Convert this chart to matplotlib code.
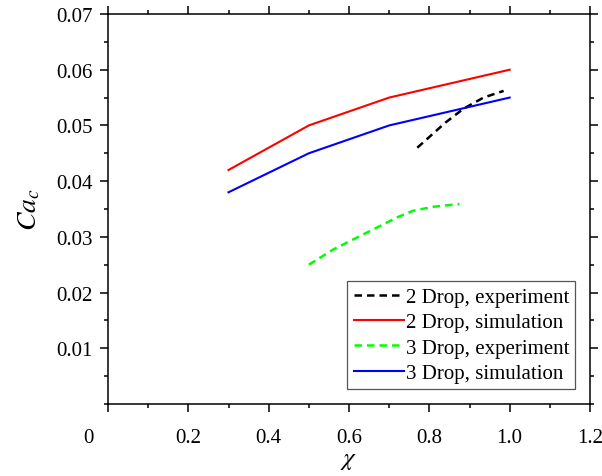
import matplotlib
matplotlib.use("Agg")
import matplotlib.pyplot as plt
import matplotlib.transforms as mtransforms
from matplotlib.ticker import MultipleLocator

# data
chi_sim = [0.3, 0.5, 0.7, 1.0]
ca_2drop_sim = [0.042, 0.050, 0.055, 0.060]
ca_3drop_sim = [0.038, 0.045, 0.050, 0.055]

chi_2drop_exp = [0.77, 0.84, 0.885, 0.935, 0.985]
ca_2drop_exp = [0.046, 0.0505, 0.053, 0.055, 0.0562]

chi_3drop_exp = [0.50, 0.56, 0.64, 0.72, 0.76, 0.81, 0.875]
ca_3drop_exp = [0.025, 0.0277, 0.0306, 0.0335, 0.0347, 0.0354, 0.0359]

xticks = [0, 0.2, 0.4, 0.6, 0.8, 1.0, 1.2]
xticklabels = ["0", "0.2", "0.4", "0.6", "0.8", "1.0", "1.2"]
yticks = [0.01, 0.02, 0.03, 0.04, 0.05, 0.06, 0.07]
yticklabels = ["0.01", "0.02", "0.03", "0.04", "0.05", "0.06", "0.07"]

plt.rcParams['font.family'] = ['Liberation Serif', 'DejaVu Serif']
plt.rcParams['mathtext.fontset'] = 'stix'

fig = plt.figure(figsize=(6.02, 4.77), dpi=100)
ax = fig.add_axes([108/602, 1 - 405/477, (590-108)/602, (405-15)/477])

ax.plot(chi_2drop_exp, ca_2drop_exp, color='black', lw=1.8, linestyle=(0, (3, 2)),
        label='2 Drop, experiment')
ax.plot(chi_sim, ca_2drop_sim, color='#ff0000', lw=1.5, label='2 Drop, simulation')
ax.plot(chi_3drop_exp, ca_3drop_exp, color='#00ff00', lw=1.8, linestyle=(0, (3, 2)),
        label='3 Drop, experiment')
ax.plot(chi_sim, ca_3drop_sim, color='#0000ff', lw=1.5, label='3 Drop, simulation')

ax.set_xlim(0, 1.2)
ax.set_ylim(0, 0.07)
ax.set_xticks(xticks)
ax.set_xticklabels(xticklabels)
ax.set_yticks(yticks)
ax.set_yticklabels(yticklabels)
ax.xaxis.set_minor_locator(MultipleLocator(0.1))
ax.yaxis.set_minor_locator(MultipleLocator(0.005))

ax.tick_params(which='both', direction='out', top=True, right=True, width=1.1, labelsize=15)
ax.tick_params(which='major', length=6)
ax.tick_params(which='minor', length=3)
ax.tick_params(axis='x', pad=11)
ax.tick_params(axis='y', pad=5)
for s in ax.spines.values():
    s.set_linewidth(1.1)

# origin label "0" sits left of the corner
lab0 = ax.xaxis.get_major_ticks()[0].label1
lab0.set_transform(lab0.get_transform() + mtransforms.ScaledTranslation(-20/100, 0, fig.dpi_scale_trans))

ax.set_xlabel(r'$\chi$', fontsize=18, labelpad=2)
ax.set_ylabel(r'$Ca_c$', fontsize=20, labelpad=10)

leg = ax.legend(loc='lower right', fontsize=15, handlelength=2.4, handletextpad=0.1,
                labelspacing=0.28, borderpad=0.3, borderaxespad=0.7, fancybox=False,
                framealpha=1)
leg.get_frame().set_edgecolor('#555555')
leg.get_frame().set_linewidth(0.9)

fig.savefig('out.png', dpi=100)
